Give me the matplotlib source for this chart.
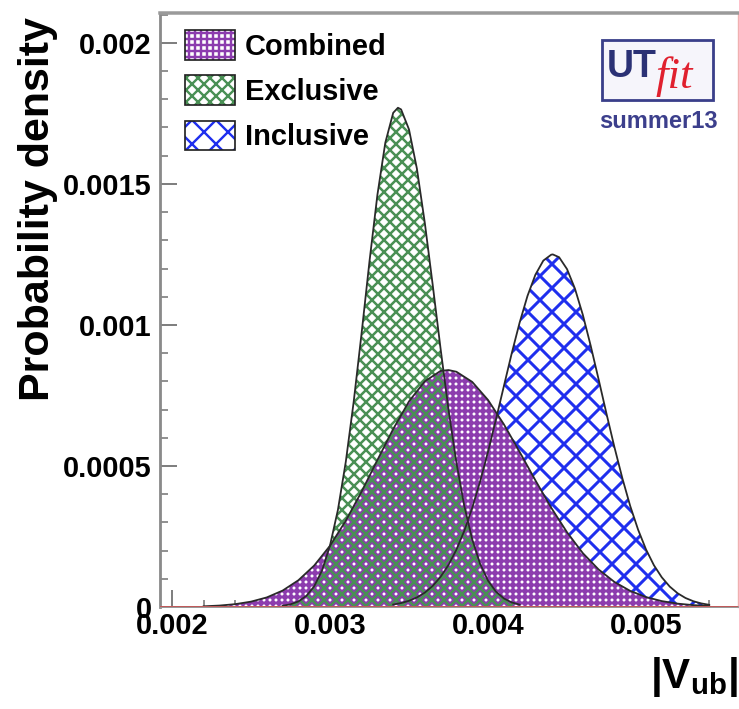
import numpy as np
import matplotlib
matplotlib.use('Agg')
import matplotlib.pyplot as plt
from matplotlib.patches import Patch, Rectangle
from matplotlib.legend_handler import HandlerTuple
from matplotlib.ticker import MultipleLocator, FuncFormatter

# at 72 dpi one point is one pixel, so all sizes below are in pixels
DPI = 72

plt.rcParams['font.family'] = ['Liberation Sans', 'DejaVu Sans']
plt.rcParams['font.weight'] = 'bold'
plt.rcParams['hatch.linewidth'] = 2.4
plt.rcParams['mathtext.fontset'] = 'custom'
plt.rcParams['mathtext.rm'] = 'Liberation Sans:bold'
plt.rcParams['mathtext.bf'] = 'Liberation Sans:bold'
plt.rcParams['mathtext.it'] = 'Liberation Sans:bold'

# |Vub| values and densities, both in units of 1e-3
excl_x = [2.70, 2.75, 2.80, 2.85, 2.90, 2.95, 3.00, 3.05, 3.10, 3.15, 3.20, 3.25,
          3.30, 3.35, 3.40, 3.43, 3.45, 3.50, 3.55, 3.60, 3.65, 3.70, 3.75, 3.80,
          3.85, 3.90, 3.95, 4.00, 4.05, 4.10, 4.15, 4.20]
excl_y = [0.0042, 0.0094, 0.0197, 0.0391, 0.0733, 0.130, 0.218, 0.344, 0.515, 0.728,
          0.971, 1.226, 1.461, 1.646, 1.752, 1.770, 1.764, 1.693, 1.554, 1.362, 1.142,
          0.915, 0.700, 0.512, 0.358, 0.240, 0.153, 0.0934, 0.0545, 0.0304, 0.0162, 0.0082]

incl_x = [3.40, 3.45, 3.50, 3.55, 3.60, 3.65, 3.70, 3.75, 3.80, 3.85, 3.90, 3.95,
          4.00, 4.05, 4.10, 4.15, 4.20, 4.25, 4.30, 4.35, 4.40, 4.41, 4.45, 4.50,
          4.55, 4.60, 4.65, 4.70, 4.75, 4.80, 4.85, 4.90, 4.95, 5.00, 5.05, 5.10,
          5.15, 5.20, 5.25, 5.30, 5.35, 5.40]
incl_y = [0.0086, 0.0139, 0.0219, 0.0338, 0.0508, 0.0745, 0.107, 0.149, 0.203, 0.270,
          0.351, 0.445, 0.550, 0.664, 0.782, 0.899, 1.008, 1.103, 1.178, 1.228, 1.249,
          1.250, 1.240, 1.198, 1.129, 1.036, 0.926, 0.807, 0.685, 0.567, 0.457, 0.358,
          0.274, 0.204, 0.148, 0.105, 0.0724, 0.0486, 0.0318, 0.0203, 0.0126, 0.0076]

comb_x = [2.20, 2.30, 2.40, 2.50, 2.60, 2.70, 2.80, 2.90, 3.00, 3.10, 3.20, 3.30,
          3.40, 3.50, 3.60, 3.70, 3.75, 3.80, 3.90, 4.00, 4.10, 4.20, 4.30, 4.40,
          4.50, 4.60, 4.70, 4.80, 4.90, 5.00, 5.10, 5.20, 5.30, 5.40]
comb_y = [0.0024, 0.0050, 0.0100, 0.0189, 0.0339, 0.0581, 0.0948, 0.147, 0.217, 0.306,
          0.409, 0.521, 0.631, 0.729, 0.800, 0.837, 0.840, 0.834, 0.798, 0.734, 0.648,
          0.550, 0.449, 0.352, 0.265, 0.191, 0.133, 0.0888, 0.0570, 0.0351, 0.0208,
          0.0118, 0.0065, 0.0034]

labels = ['Combined', 'Exclusive', 'Inclusive']
colors = {'Combined': '#8c3cae', 'Exclusive': '#4a9055', 'Inclusive': '#1f2fee'}
hatches = {'Combined': '++', 'Exclusive': 'xx', 'Inclusive': 'x'}
hatch_lw = {'Combined': 3.2, 'Exclusive': 2.5, 'Inclusive': 3.0}
curves = {'Combined': (comb_x, comb_y), 'Exclusive': (excl_x, excl_y), 'Inclusive': (incl_x, incl_y)}

fig = plt.figure(figsize=(739 / DPI, 709 / DPI), dpi=DPI)
ax = fig.add_axes([0.2165, 0.1439, 0.7821, 0.8378])

# draw order: inclusive, combined (opaque), exclusive (see-through)
faces = {'Inclusive': 'white', 'Combined': 'white', 'Exclusive': 'none'}
for z, name in enumerate(['Inclusive', 'Combined', 'Exclusive']):
    x, y = curves[name]
    x = np.array(x) * 1e-3
    y = np.array(y) * 1e-3
    with plt.rc_context({'hatch.linewidth': hatch_lw[name]}):
        coll = ax.fill_between(x, 0, y, facecolor=faces[name], edgecolor=colors[name],
                               hatch=hatches[name], linewidth=0, zorder=2 + z)
    if hasattr(coll, 'set_hatch_linewidth'):
        coll.set_hatch_linewidth(hatch_lw[name])
for name in labels:
    x, y = curves[name]
    ax.plot(np.array(x) * 1e-3, np.array(y) * 1e-3, color='#2a2a2a', lw=1.8, zorder=6)

ax.axhline(0, color='#c05a5a', lw=2, zorder=7)

ax.set_xlim(0.001924, 0.005582)
ax.set_ylim(0, 0.002106)
ax.xaxis.set_major_locator(MultipleLocator(0.001))
ax.xaxis.set_minor_locator(MultipleLocator(0.0002))
ax.yaxis.set_major_locator(MultipleLocator(0.0005))
ax.yaxis.set_minor_locator(MultipleLocator(0.0001))
fmt = FuncFormatter(lambda v, p: '%g' % round(v, 6))
ax.xaxis.set_major_formatter(fmt)
ax.yaxis.set_major_formatter(fmt)
ax.tick_params(which='major', direction='in', length=17, width=2, color='#808080',
               labelsize=29, top=False, right=False)
ax.tick_params(which='minor', direction='in', length=7.5, width=1.7, color='#808080',
               top=False, right=False)
ax.tick_params(axis='y', pad=8)
ax.tick_params(axis='x', pad=5)

ax.spines['left'].set_color('#8a8a8a')
ax.spines['left'].set_linewidth(2.8)
ax.spines['top'].set_color('#9a9a9a')
ax.spines['top'].set_linewidth(3.5)
ax.spines['right'].set_color('#f0b0b0')
ax.spines['right'].set_linewidth(1.4)
ax.spines['bottom'].set_color('#999999')
ax.spines['bottom'].set_linewidth(2)

# legend
handles = []
for n in labels:
    with plt.rc_context({'hatch.linewidth': hatch_lw[n]}):
        hp = Patch(facecolor='white', edgecolor=colors[n], hatch=hatches[n], lw=0)
    handles.append((hp, Patch(facecolor='none', edgecolor='#222222', lw=1.7)))
ax.legend(handles, labels, handler_map={tuple: HandlerTuple(ndivide=1)},
          loc='upper left', bbox_to_anchor=(0.0433, 0.971), frameon=False,
          fontsize=29, handlelength=1.72, handleheight=1.2, labelspacing=0.5,
          handletextpad=0.35, borderpad=0, borderaxespad=0)

# axis titles
fig.text(38 / 739, 1 - 209 / 709, 'Probability density', rotation=90,
         ha='center', va='center', fontsize=43, fontweight='bold')
fig.text(738 / 739, 1 - 688 / 709, r'$|\mathrm{V}_{\mathrm{ub}}|$', ha='right',
         va='baseline', fontsize=42)

# UTfit logo
fig.patches.append(Rectangle((602 / 739, 1 - 100 / 709), 111 / 739, 60 / 709,
                             transform=fig.transFigure, facecolor='#f6f5fb',
                             edgecolor='#3a3f8a', lw=2.8, zorder=10))
fig.text(607 / 739, 1 - 77 / 709, 'UT', fontsize=37.5, fontweight='bold',
         color='#2b3175', ha='left', va='baseline', zorder=11)
fig.text(656 / 739, 1 - 88 / 709, 'fit', fontsize=45, fontstyle='italic',
         fontweight='normal', family=['Liberation Serif', 'DejaVu Serif'],
         color='#e0202e', ha='left', va='baseline', zorder=11)
fig.text(658 / 739, 1 - 128 / 709, 'summer13', fontsize=23.6, fontweight='bold',
         color='#3c3f8c', ha='center', va='baseline', zorder=11)

fig.savefig('out.png', dpi=DPI)
